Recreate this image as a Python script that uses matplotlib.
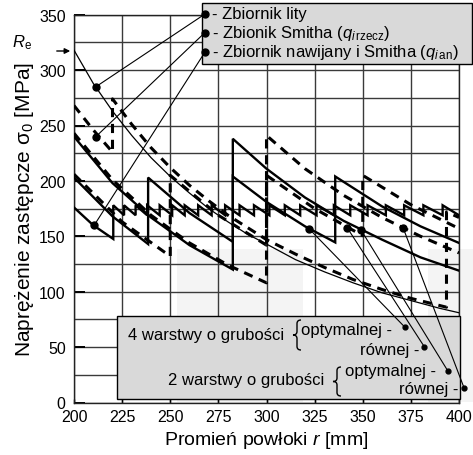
import matplotlib
matplotlib.use("Agg")
import matplotlib.pyplot as plt
from matplotlib.patches import Rectangle, PathPatch
from matplotlib.path import Path

plt.rcParams['font.family'] = ['Liberation Sans', 'DejaVu Sans']
plt.rcParams['mathtext.fontset'] = 'custom'
plt.rcParams['mathtext.rm'] = 'Liberation Sans'
plt.rcParams['mathtext.it'] = 'Liberation Sans:italic'

# --- data ---
# thin solid: solid tank (zbiornik lity)
r_lity = [200, 210, 220, 230, 240, 250, 260, 270, 280, 290, 300, 315, 330, 345, 360, 375, 390, 400]
s_lity = [318, 288, 263, 241, 221, 204, 189, 175, 163, 152, 143, 129, 118, 108, 99, 92, 85, 81]

# thick dashed: Smith tank (q_i rzecz)
r_smith = [200, 210, 220, 220, 230, 240, 250, 260, 270, 280, 290, 300, 315, 330, 345, 360, 375, 393.5, 393.5, 400]
s_smith = [268, 246, 226, 274, 251, 230, 212, 196, 182, 169, 158, 147, 134, 122, 111, 102, 94, 86, 172, 167]

# wound + Smith tank (q_i an): first segment, then dense teeth
r_naw = [200, 210, 220.4]
s_naw = [176, 160, 147.6]
r_teeth = [220.4, 226, 232, 238, 244.5, 251, 257.5, 264.5, 271.5, 278.5, 286, 293.5, 301.5,
           309.5, 317.5, 326, 335, 343.5, 352.5, 362, 371.5, 381.5, 391.5, 400]
tooth_hi, tooth_lo = 178, 169

# 2 layers, optimal thickness (solid)
r_2opt = [200, 220, 240, 260, 282.5, 282.5, 300, 320, 340, 360, 380, 400]
s_2opt = [240, 198, 167, 142, 120, 238, 211, 185, 164, 147, 131, 119]
# 2 layers, equal thickness (dashed)
r_2eq = [200, 220, 240, 260, 280, 300, 300, 320, 340, 360, 380, 400]
s_2eq = [243, 201, 169, 144, 124, 108, 241, 211, 187, 167, 150, 135]
# 4 layers, optimal thickness (solid)
r_4opt = [200, 220, 238.5, 238.5, 260, 282.5, 282.5, 300, 320, 335.7, 335.7, 360, 380, 400]
s_4opt = [203, 168, 143, 203, 171, 145, 204, 181, 159, 144.5, 204, 177, 159, 144]
# 4 layers, equal thickness (dashed)
r_4eq = [200, 225, 250, 250, 275, 300, 300, 325, 350, 350, 375, 400]
s_4eq = [206, 163, 132, 205, 169, 142, 205, 175, 150.5, 205, 178.5, 157]

# marked points on curves (top legend: lity, Smith, nawijany; bottom: 4opt, 4eq, 2opt, 2eq)
top_dot_r = [211.4, 211.4, 210.5]
top_dot_s = [285, 240, 160]
bot_dot_r = [322, 342, 349, 371]
bot_dot_s = [157, 157.5, 156, 157.5]

top_labels = ['- Zbiornik lity',
              r'- Zbionik Smitha ($q_{i\,\mathrm{rzecz}}$)',
              r'- Zbiornik nawijany i Smitha ($q_{i\,\mathrm{an}}$)']

W, H = 473, 456


def fx(x, y):
    # pixel position -> figure fraction
    return (x / W, 1 - y / H)


def teeth(r_jumps, hi, lo):
    rr, ss = [], []
    for a, b in zip(r_jumps[:-1], r_jumps[1:]):
        rr += [a, a, b]
        ss += [lo, hi, lo]
    return rr, ss


def brace(ax, xl, xr, yt, yb):
    # thin curly brace "{" drawn in pixel coords
    xm = (xl + xr) / 2
    ym = (yt + yb) / 2
    q = (yb - yt) * 0.12
    pts = [(xr, yt), (xm, yt), (xm, yt + q), (xm, ym - q), (xm, ym), (xl, ym),
           (xm, ym), (xm, ym + q), (xm, yb - q), (xm, yb), (xr, yb)]
    codes = [Path.MOVETO, Path.CURVE3, Path.CURVE3, Path.LINETO, Path.CURVE3, Path.CURVE3,
             Path.CURVE3, Path.CURVE3, Path.LINETO, Path.CURVE3, Path.CURVE3]
    path = Path([fx(*p) for p in pts], codes)
    ax.add_patch(PathPatch(path, transform=fig.transFigure, fill=False, lw=1.0,
                           edgecolor='black', clip_on=False, zorder=7))


fig = plt.figure(figsize=(W / 100, H / 100), dpi=100)
ax = fig.add_axes([74 / W, 1 - 403.5 / H, 385 / W, 387.8 / H])
tf = fig.transFigure

# faint watermark
for x0, x1 in [(177, 303), (428, 473)]:
    ax.add_patch(Rectangle(fx(x0, 403), (x1 - x0) / W, 153 / H, transform=tf,
                           facecolor='#f4f4f4', edgecolor='none', clip_on=False, zorder=0.5))

ax.set_xlim(200, 400)
ax.set_ylim(0, 350)
ax.set_xticks(range(200, 401, 25))
ax.set_yticks(range(0, 351, 50))
ax.set_yticks(range(25, 350, 50), minor=True)
ax.grid(True, which='both', color='#3a3a3a', lw=1.0, zorder=1)
ax.set_axisbelow(True)
ax.tick_params(axis='y', which='major', direction='in', length=8, width=1.4, labelsize=11.5, pad=6)
ax.tick_params(axis='y', which='minor', length=0)
ax.tick_params(axis='x', direction='in', length=3, width=1.0, labelsize=11.5, pad=5)
for sp in ax.spines.values():
    sp.set_color('#222222')
    sp.set_linewidth(1.0)

thick = dict(color='black', lw=1.7, zorder=3, solid_joinstyle='miter')
dash = dict(color='black', lw=2.2, ls=(0, (3, 2.2)), zorder=3)

ax.plot(r_lity, s_lity, color='black', lw=0.9, zorder=3)
ax.plot(r_smith, s_smith, **dash)
rt, st = teeth(r_teeth, tooth_hi, tooth_lo)
ax.plot(r_naw + rt, s_naw + st, **thick)
ax.plot(r_2opt, s_2opt, **thick)
ax.plot(r_2eq, s_2eq, **dash)
ax.plot(r_4opt, s_4opt, **thick)
ax.plot(r_4eq, s_4eq, **dash)

ax.plot(top_dot_r + bot_dot_r, top_dot_s + bot_dot_s, 'o', color='black', ms=5, zorder=6)

ax.set_xlabel('Promień powłoki $r$ [mm]', fontsize=14, labelpad=3)
ax.set_ylabel('Naprężenie zastępcze σ$_0$ [MPa]', fontsize=15, labelpad=2)

# R_e marker
ax.text(*fx(22, 43), r'$R_\mathrm{e}$', transform=tf, fontsize=12, ha='center', va='center')
ax.annotate('', xy=fx(73, 52), xytext=fx(54, 52), xycoords='figure fraction',
            textcoords='figure fraction',
            arrowprops=dict(arrowstyle='-|>', color='black', lw=1.0, mutation_scale=8))

# top legend box
ax.add_patch(Rectangle(fx(201.7, 65), 270 / W, 61 / H, transform=tf, facecolor='#d9d9d9',
                       edgecolor='black', lw=1.0, clip_on=False, zorder=4))
top_y = [15, 33.5, 53]
for lab, yy, r0, s0 in zip(top_labels, top_y, top_dot_r, top_dot_s):
    ax.text(*fx(212, yy), lab, transform=tf, fontsize=12, ha='left', va='center', zorder=7)
    ax.plot(*fx(205, yy), 'o', color='black', ms=5, transform=tf, clip_on=False, zorder=7)
    ax.annotate('', xy=(r0, s0), xycoords='data', xytext=fx(205, yy), textcoords='figure fraction',
                arrowprops=dict(arrowstyle='-', lw=0.8, color='black', shrinkA=0, shrinkB=0),
                annotation_clip=False, zorder=6)

# bottom legend box
ax.add_patch(Rectangle(fx(117, 400), 343 / W, 83 / H, transform=tf, facecolor='#d9d9d9',
                       edgecolor='black', lw=1.0, clip_on=False, zorder=4))
ax.text(*fx(128, 336), '4 warstwy o grubości', transform=tf, fontsize=12, va='center', zorder=7)
brace(ax, 293, 301, 321, 351)
ax.text(*fx(301, 330), 'optymalnej -', transform=tf, fontsize=12, va='center', zorder=7)
ax.text(*fx(419, 350), 'równej -', transform=tf, fontsize=12, ha='right', va='center', zorder=7)
ax.text(*fx(168, 380), '2 warstwy o grubości', transform=tf, fontsize=12, va='center', zorder=7)
brace(ax, 333, 341, 368, 397)
ax.text(*fx(345, 371.7), 'optymalnej -', transform=tf, fontsize=12, va='center', zorder=7)
ax.text(*fx(458, 389.3), 'równej -', transform=tf, fontsize=12, ha='right', va='center', zorder=7)

bot_leg = [(405, 328.3), (424.3, 347.7), (447.7, 371.7), (464, 388.7)]
for (px, py), r0, s0 in zip(bot_leg, bot_dot_r, bot_dot_s):
    ax.plot(*fx(px, py), 'o', color='black', ms=3.5, transform=tf, clip_on=False, zorder=7)
    ax.annotate('', xy=(r0, s0), xycoords='data', xytext=fx(px, py), textcoords='figure fraction',
                arrowprops=dict(arrowstyle='-', lw=0.8, color='black', shrinkA=0, shrinkB=0),
                annotation_clip=False, zorder=6)

fig.savefig('out.png', dpi=100)
